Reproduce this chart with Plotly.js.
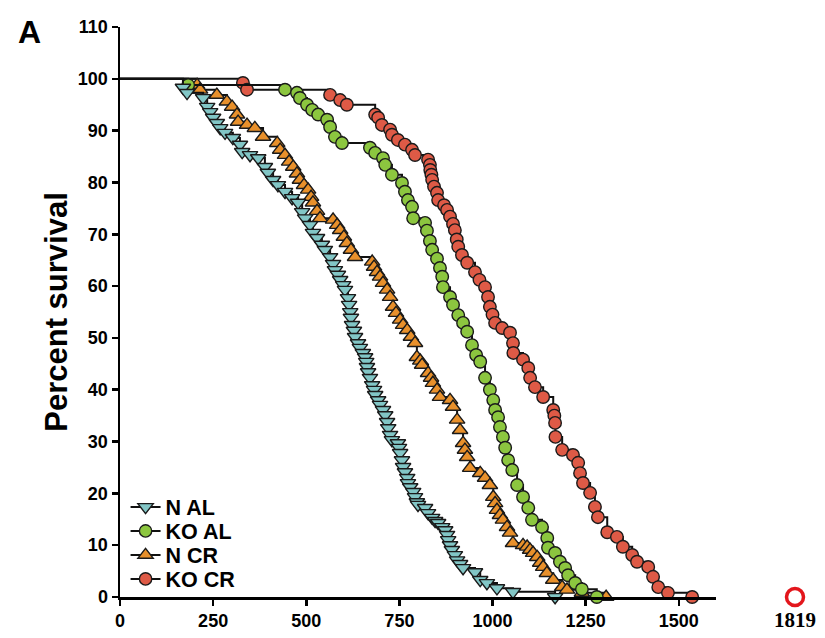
<!DOCTYPE html>
<html>
<head>
<meta charset="utf-8">
<script src="https://cdn.plot.ly/plotly-3.0.1.min.js"></script>
<style>
  body { margin: 0; background: #fff; }
  #plot { width: 825px; height: 638px; }
</style>
</head>
<body>
<div id="plot"></div>
<script>
// survival data (days, percent surviving after each death)
var nalDays = [169, 180, 223, 234, 242, 250, 260, 269, 282, 303, 322, 328, 349, 371, 389, 397, 411, 424, 443, 462,
  478, 489, 497, 510, 518, 529, 542, 550, 564, 572, 577, 585, 591, 599, 604, 612, 615, 618, 620, 623,
  628, 631, 639, 644, 652, 658, 661, 663, 666, 671, 677, 682, 685, 693, 698, 706, 712, 717, 720, 725,
  730, 746, 749, 752, 757, 760, 765, 771, 773, 779, 787, 792, 797, 800, 819, 827, 838, 846, 854, 865,
  873, 878, 881, 886, 891, 899, 905, 913, 921, 953, 967, 985, 1012, 1055, 1168];
var nalPct = [98.3, 97.3, 96.3, 94.6, 93.6, 92.5, 91.5, 90.5, 89.6, 88.6, 87.3, 85.9, 85.3, 84.7, 83.0, 81.9, 80.5, 79.5, 78.2, 77.0,
  76.1, 74.3, 73.1, 71.8, 70.3, 69.3, 68.0, 67.0, 65.6, 64.3, 63.1, 62.2, 61.2, 60.2, 59.3, 57.7, 56.4, 55.0, 53.9, 52.5,
  51.4, 50.2, 49.0, 48.1, 47.1, 46.3, 45.4, 44.4, 43.4, 42.3, 40.9, 40.0, 39.0, 38.0, 37.1, 36.1, 35.1, 33.8, 32.6, 31.3,
  30.3, 29.7, 28.8, 27.8, 26.4, 25.1, 24.1, 23.0, 22.0, 21.2, 20.3, 19.3, 18.3, 17.8, 17.2, 16.2, 15.3, 14.7, 14.3, 13.5,
  12.9, 12.0, 11.0, 10.0, 9.1, 8.1, 7.1, 6.4, 5.6, 4.8, 3.3, 2.7, 1.7, 1.0, 0];

var koalDays = [183, 443, 475, 483, 502, 516, 532, 556, 564, 577, 596, 671, 685, 706, 712, 730, 757, 765, 773, 784,
  787, 819, 824, 832, 838, 851, 859, 865, 867, 886, 894, 908, 921, 932, 945, 956, 967, 980, 993, 1002,
  1007, 1015, 1020, 1028, 1034, 1042, 1053, 1066, 1082, 1096, 1106, 1133, 1147, 1149, 1168, 1181, 1195, 1203, 1222, 1240,
  1280];
var koalPct = [98.8, 97.9, 97.3, 96.3, 95.0, 94.0, 93.1, 92.1, 90.7, 88.8, 87.6, 86.7, 85.7, 84.7, 83.4, 81.5, 79.9, 78.2, 76.6, 75.3,
  73.1, 72.2, 70.7, 68.7, 67.0, 65.3, 63.5, 61.8, 59.8, 57.9, 56.4, 54.4, 52.9, 51.2, 48.6, 46.7, 45.4, 42.3, 40.0, 38.0,
  36.1, 34.7, 32.8, 30.9, 28.8, 26.4, 24.5, 21.6, 19.3, 17.2, 14.9, 13.5, 11.4, 9.5, 8.5, 6.8, 5.6, 4.2, 2.7, 1.5,
  0];

var ncrDays = [207, 215, 260, 287, 301, 314, 317, 341, 362, 384, 422, 430, 443, 454, 465, 475, 483, 494, 505, 513,
  518, 529, 537, 572, 583, 591, 601, 609, 620, 631, 677, 682, 690, 698, 706, 717, 725, 733, 741, 752,
  760, 771, 781, 792, 797, 806, 811, 827, 835, 840, 851, 859, 886, 894, 905, 913, 921, 926, 932, 940,
  967, 980, 993, 1002, 1007, 1012, 1020, 1028, 1039, 1047, 1055, 1082, 1093, 1101, 1109, 1120, 1128, 1136, 1146, 1163,
  1187, 1200, 1240, 1305];
var ncrPct = [98.8, 97.9, 96.9, 95.6, 94.6, 93.1, 91.7, 91.1, 90.5, 88.8, 87.6, 86.3, 85.3, 84.0, 83.0, 81.7, 80.5, 79.5, 78.6, 77.2,
  76.1, 74.5, 73.1, 72.8, 71.8, 70.8, 69.5, 68.3, 67.0, 65.6, 64.7, 63.7, 62.7, 61.8, 60.6, 59.3, 57.9, 56.0, 54.8, 53.5,
  52.5, 51.5, 50.2, 49.0, 46.3, 45.6, 44.8, 43.2, 42.3, 41.3, 40.0, 38.6, 38.0, 36.7, 34.2, 32.2, 29.7, 28.4, 27.0, 24.9,
  23.9, 23.0, 21.6, 19.3, 18.1, 16.8, 15.8, 14.9, 13.5, 12.4, 10.4, 10.0, 9.7, 9.1, 8.5, 7.7, 6.6, 5.8, 4.6, 3.3,
  1.9, 1.4, 0.8, 0];

var kocrDays = [330, 341, 564, 591, 609, 685, 693, 703, 725, 730, 746, 765, 784, 792, 827, 832, 833, 836, 838, 843,
  851, 854, 870, 878, 886, 894, 899, 904, 908, 918, 932, 953, 965, 980, 988, 993, 1000, 1007, 1026, 1047,
  1055, 1056, 1082, 1096, 1101, 1114, 1136, 1163, 1166, 1168, 1169, 1187, 1216, 1230, 1235, 1243, 1262, 1275, 1283, 1308,
  1334, 1350, 1375, 1388, 1418, 1431, 1445, 1471, 1536];
var kocrPct = [99.2, 97.9, 96.9, 95.9, 95.0, 93.1, 92.5, 91.1, 90.2, 89.2, 88.2, 87.3, 86.3, 85.3, 84.4, 83.4, 82.4, 81.5, 80.5, 79.2,
  78.0, 76.6, 75.6, 74.7, 73.4, 72.0, 70.8, 69.0, 67.6, 66.0, 64.5, 62.7, 61.2, 59.8, 57.9, 56.0, 54.5, 52.9, 51.9, 51.0,
  49.0, 47.1, 45.8, 44.2, 42.3, 40.5, 38.6, 36.1, 35.0, 33.6, 30.9, 28.4, 27.4, 25.9, 23.9, 22.0, 20.1, 17.4, 15.4, 12.5,
  11.6, 9.7, 8.1, 6.8, 5.8, 3.9, 1.9, 0.8, 0];

var groupNames = ["N AL", "KO AL", "N CR", "KO CR"];
var groupColors = ["#82c6c6", "#8cc63f", "#e8902b", "#de5a46"];
var groupSymbols = ["triangle-down", "circle", "triangle-up", "circle"];
var groupDays = [nalDays, koalDays, ncrDays, kocrDays];
var groupPct = [nalPct, koalPct, ncrPct, kocrPct];
var legendIds = ["legend", "legend2", "legend3", "legend4"];

var outlierDay = [1819];
var outlierPct = [0];

var xTicks = [0, 250, 500, 750, 1000, 1250, 1500];
var yTicks = [0, 10, 20, 30, 40, 50, 60, 70, 80, 90, 100, 110];

var traces = [];
// later groups first so the N groups sit on top
for (var g = 3; g >= 0; g--) {
  var xs = [0].concat(groupDays[g]);
  var ys = [100].concat(groupPct[g]);
  var msize = groupSymbols[g] === "circle" ? 12.5 : 13.5;
  var sizes = xs.map(function (d, i) { return i === 0 ? 0 : msize; });
  traces.push({
    x: xs,
    y: ys,
    name: groupNames[g],
    legend: legendIds[g],
    type: "scatter",
    mode: "lines+markers",
    line: { color: "#111", width: 2, shape: "hv" },
    marker: {
      symbol: groupSymbols[g],
      size: sizes,
      opacity: 1,
      color: groupColors[g],
      line: { color: "#1a1a1a", width: 1.4 }
    },
    cliponaxis: false
  });
}

traces.push({
  x: outlierDay,
  y: outlierPct,
  xaxis: "x2",
  type: "scatter",
  mode: "markers",
  showlegend: false,
  marker: { symbol: "circle-open", size: 17, color: "#e3161c", line: { width: 3.5, color: "#e3161c" } },
  cliponaxis: false
});

var L = 120, R = 10, T = 27, B = 41;
var plotW = 825 - L - R;
var plotH = 638 - T - B;
var mainEnd = (716 - L) / plotW;

function legendAt(py) {
  return {
    x: 0.008, y: (597 - py) / plotH, xanchor: "left", yanchor: "middle",
    bgcolor: "rgba(0,0,0,0)",
    font: { size: 21.5, family: "Liberation Sans, Arial, sans-serif", weight: "bold", color: "#000" },
    itemwidth: 30
  };
}

var layout = {
  width: 825,
  height: 638,
  margin: { l: L, r: R, t: T, b: B },
  paper_bgcolor: "#fff",
  plot_bgcolor: "#fff",
  font: { family: "Liberation Sans, Arial, sans-serif", color: "#000" },
  showlegend: true,
  legend: legendAt(507),
  legend2: legendAt(531),
  legend3: legendAt(555),
  legend4: legendAt(579),
  xaxis: {
    domain: [0, mainEnd],
    range: [0, 1600],
    tickvals: xTicks,
    ticktext: xTicks.map(String),
    ticks: "outside",
    ticklen: 6,
    tickwidth: 2.5,
    tickcolor: "#000",
    showline: true,
    linewidth: 2.5,
    linecolor: "#000",
    showgrid: false,
    zeroline: false,
    tickfont: { size: 18, weight: "bold" }
  },
  xaxis2: {
    domain: [(780 - L) / plotW, (810 - L) / plotW],
    range: [1804, 1834],
    anchor: "y",
    tickvals: outlierDay,
    ticktext: outlierDay.map(String),
    ticks: "",
    ticklabelstandoff: 8,
    showline: false,
    showgrid: false,
    zeroline: false,
    tickfont: { size: 21, family: "Liberation Serif, DejaVu Serif, serif", color: "#000", weight: "bold" }
  },
  yaxis: {
    range: [0, 110],
    tickvals: yTicks,
    ticks: "outside",
    ticklen: 6,
    tickwidth: 2.5,
    tickcolor: "#000",
    showline: true,
    linewidth: 2.5,
    linecolor: "#000",
    showgrid: false,
    zeroline: false,
    tickfont: { size: 18, weight: "bold" },
    title: { text: "Percent survival", font: { size: 31, weight: "bold" }, standoff: 1 }
  },
  annotations: [{
    text: "A",
    xref: "paper", yref: "paper",
    x: -0.15, y: 1.027,
    xanchor: "left", yanchor: "top",
    showarrow: false,
    font: { size: 32, weight: "bold" }
  }]
};

Plotly.newPlot("plot", traces, layout, { displayModeBar: false, staticPlot: true });
</script>
</body>
</html>
